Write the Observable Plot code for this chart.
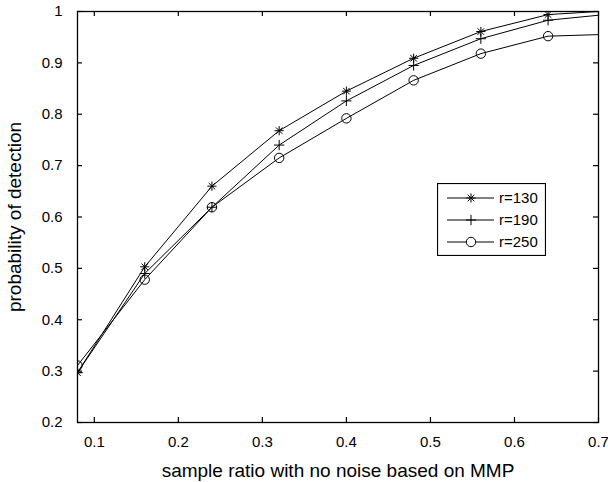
<!DOCTYPE html>
<html>
<head>
<meta charset="utf-8">
<script src="https://cdn.jsdelivr.net/npm/d3@7"></script>
<script src="https://cdn.jsdelivr.net/npm/@observablehq/plot@0.6"></script>
<style>
  html, body { margin: 0; padding: 0; background: #fff; }
  #chart { position: relative; width: 608px; height: 482px; font-family: "Liberation Sans", Arial, Helvetica, sans-serif; }
  #legend { position: absolute; left: 437px; top: 183px; }
</style>
</head>
<body>
<div id="chart"></div>
<script>
// ---- data ----
const sampleRatio = [0.08, 0.16, 0.24, 0.32, 0.40, 0.48, 0.56, 0.64, 0.72];
const r130 = [0.297, 0.503, 0.660, 0.768, 0.845, 0.909, 0.961, 0.994, 1.002];
const r190 = [0.297, 0.490, 0.619, 0.740, 0.826, 0.895, 0.947, 0.983, 0.996];
const r250 = [0.311, 0.478, 0.619, 0.715, 0.792, 0.866, 0.918, 0.952, 0.956];
const seriesNames = ["r=130", "r=190", "r=250"];
const xTicks = [0.1, 0.2, 0.3, 0.4, 0.5, 0.6, 0.7];
const yTicks = [0.2, 0.3, 0.4, 0.5, 0.6, 0.7, 0.8, 0.9, 1];
const xDomain = [0.08, 0.7];
const yDomain = [0.2, 1];
const xLabel = "sample ratio with no noise based on MMP";
const yLabel = "probability of detection";

const W = 608, H = 482, mL = 77, mR = 10, mT = 11, mB = 60;
const plotW = W - mL - mR, plotH = H - mT - mB;
const TICK = 5; // tick length in pixels
const tx = TICK * (xDomain[1] - xDomain[0]) / plotW; // tick length in x units
const ty = TICK * (yDomain[1] - yDomain[0]) / plotH; // tick length in y units

// 8-armed asterisk (plus + times)
const star8 = {
  draw(ctx, size) {
    const r = Math.sqrt(size / Math.PI);
    const d = r * Math.SQRT1_2;
    ctx.moveTo(0, -r); ctx.lineTo(0, r);
    ctx.moveTo(-r, 0); ctx.lineTo(r, 0);
    ctx.moveTo(-d, -d); ctx.lineTo(d, d);
    ctx.moveTo(-d, d); ctx.lineTo(d, -d);
  }
};

const symbols = [star8, "plus", "circle"];
const radii = [4.6, 3.4, 4.7];
const seriesValues = [r130, r190, r250];

const series = seriesValues.map((vals, i) =>
  sampleRatio.map((x, j) => ({x, y: vals[j], name: seriesNames[i]}))
);

const fmt = d3.format("~g");
const marks = [];
series.forEach((data, i) => {
  marks.push(Plot.line(data, {x: "x", y: "y", stroke: "black", strokeWidth: 1, clip: true}));
  marks.push(Plot.dot(data, {x: "x", y: "y", symbol: () => symbols[i], r: radii[i], stroke: "black", fill: "none", strokeWidth: 1, clip: true}));
});

const tickStyle = {stroke: "black", strokeWidth: 1.2};

const plot = Plot.plot({
  width: W,
  height: H,
  marginLeft: mL,
  marginRight: mR,
  marginTop: mT,
  marginBottom: mB,
  style: {fontFamily: '"Liberation Sans", Arial, Helvetica, sans-serif', fontSize: "15px", color: "black", background: "white"},
  x: {domain: xDomain},
  y: {domain: yDomain},
  symbol: {type: "identity"},
  marks: [
    ...marks,
    // inward tick marks on all four sides
    Plot.ruleX(xTicks, {x: d => d, y1: yDomain[0], y2: yDomain[0] + ty, ...tickStyle}),
    Plot.ruleX(xTicks, {x: d => d, y1: yDomain[1] - ty, y2: yDomain[1], ...tickStyle}),
    Plot.ruleY(yTicks, {y: d => d, x1: xDomain[0], x2: xDomain[0] + tx, ...tickStyle}),
    Plot.ruleY(yTicks, {y: d => d, x1: xDomain[1] - tx, x2: xDomain[1], ...tickStyle}),
    Plot.frame({stroke: "black", strokeWidth: 1.3}),
    Plot.axisX(xTicks, {anchor: "bottom", tickSize: 0, tickPadding: 14, tickFormat: fmt, fontSize: 15,
      label: xLabel, labelAnchor: "center", labelArrow: "none", labelOffset: 54}),
    Plot.axisY(yTicks, {anchor: "left", tickSize: 0, tickPadding: 15, tickFormat: fmt, fontSize: 15,
      label: yLabel, labelAnchor: "center", labelArrow: "none", labelOffset: 70})
  ]
});
const chart = document.getElementById("chart");
chart.appendChild(plot);

plot.querySelectorAll("[aria-label='x-axis label'] text, [aria-label='y-axis label'] text").forEach(t => t.setAttribute("font-size", "19"));

// ---- legend ----
const lw = 109, lh = 73;
const legend = d3.select(chart).append("div").attr("id", "legend")
  .append("svg").attr("width", lw).attr("height", lh)
  .style("font-family", '"Liberation Sans", Arial, Helvetica, sans-serif');
legend.append("rect").attr("x", 0.5).attr("y", 0.5).attr("width", lw - 1).attr("height", lh - 1)
  .attr("fill", "white").attr("stroke", "black").attr("stroke-width", 1.2);
const d3syms = [star8, d3.symbolPlus, d3.symbolCircle];
seriesNames.forEach((name, i) => {
  const cy = 15 + i * 22;
  const g = legend.append("g");
  g.append("line").attr("x1", 10).attr("x2", 57).attr("y1", cy).attr("y2", cy).attr("stroke", "black").attr("stroke-width", 1);
  g.append("path").attr("transform", `translate(34,${cy})`)
    .attr("d", d3.symbol(d3syms[i], Math.PI * radii[i] * radii[i])())
    .attr("fill", i === 2 ? "white" : "none").attr("stroke", "black").attr("stroke-width", 1);
  g.append("text").attr("x", 62).attr("y", cy).attr("dy", "0.36em").attr("font-size", 15).text(name);
});
</script>
</body>
</html>
